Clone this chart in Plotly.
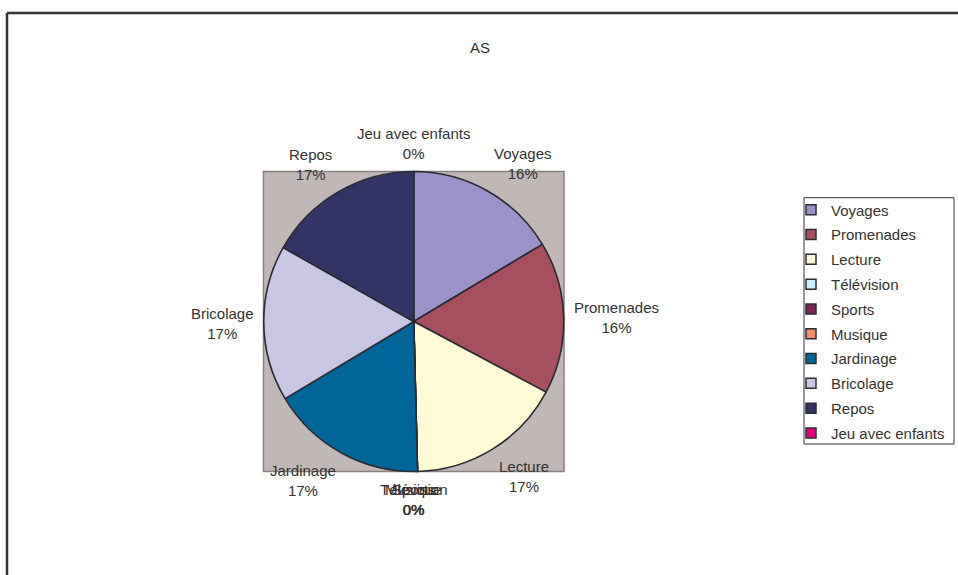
import math
import plotly.graph_objects as go

W, H = 958, 575

categories = ["Voyages", "Promenades", "Lecture", "Télévision", "Sports",
              "Musique", "Jardinage", "Bricolage", "Repos", "Jeu avec enfants"]
values = [16.4, 16.4, 16.8, 0, 0, 0, 16.8, 16.8, 16.8, 0]
colors = ["#9A92C8", "#A6505F", "#FFFBD6", "#CCEEFF", "#7B2456",
          "#F28C6E", "#006699", "#C9C6E4", "#333366", "#E5007E"]
title_text = "AS"

FONT = "Liberation Sans, Arial, sans-serif"
TXT = "#333333"
EDGE = "#2b2b33"

# pie geometry (pixels)
px_left, px_right, px_top, px_bottom = 263.5, 564, 171.5, 471.5
dom_x = [px_left / W, px_right / W]
dom_y = [1 - px_bottom / H, 1 - px_top / H]
cx = (px_left + px_right) / 2
cy = (px_top + px_bottom) / 2
radius = min(px_right - px_left, px_bottom - px_top) / 2
label_gap = 8

fig = go.Figure()
fig.add_trace(go.Pie(
    labels=categories, values=values, sort=False, direction="clockwise",
    rotation=0, domain=dict(x=dom_x, y=dom_y),
    marker=dict(colors=colors, line=dict(color=EDGE, width=1.6)),
    textinfo="none", showlegend=False, hoverinfo="label+percent",
))

# data labels, Excel-style: the corner facing the pie sits on the mid-angle ray
total = sum(values)
annotations = []
cum = 0.0
for lab, v in zip(categories, values):
    mid = (cum + v / 2) / total * 2 * math.pi
    cum += v
    s, c = math.sin(mid), math.cos(mid)
    d = radius + label_gap
    x_px = cx + d * s
    y_px = cy - d * c
    if abs(s) < 0.2:
        x_px = cx
    xa = "left" if s > 0.2 else ("right" if s < -0.2 else "center")
    ya = "bottom" if c > 0.2 else ("top" if c < -0.2 else "middle")
    annotations.append(dict(
        x=x_px / W, y=1 - y_px / H, xref="paper", yref="paper",
        text=f"{lab}<br>{v / total:.0%}", showarrow=False,
        xanchor=xa, yanchor=ya, align="center",
        font=dict(family=FONT, size=15, color=TXT),
    ))

for c_, col in zip(categories, colors):
    fig.add_trace(go.Scatter(
        x=[None], y=[None], mode="markers", name=c_, legendgroup=c_,
        marker=dict(symbol="square", size=10, color=col,
                    line=dict(color=EDGE, width=1.5)),
        showlegend=True, hoverinfo="skip",
    ))

shapes = [
    dict(type="rect", xref="paper", yref="paper", x0=dom_x[0], x1=dom_x[1],
         y0=dom_y[0], y1=dom_y[1], fillcolor="#C0B8B7",
         line=dict(color="#8A8080", width=1.5), layer="below"),
    dict(type="line", xref="paper", yref="paper", x0=7 / W, x1=1, y0=1 - 13 / H,
         y1=1 - 13 / H, line=dict(color="#333338", width=2.5)),
    dict(type="line", xref="paper", yref="paper", x0=7 / W, x1=7 / W, y0=0,
         y1=1 - 13 / H, line=dict(color="#333338", width=2.5)),
    # legend frame
    dict(type="rect", xref="paper", yref="paper", x0=804 / W, x1=954 / W,
         y0=1 - 444 / H, y1=1 - 197.7 / H, fillcolor="rgba(0,0,0,0)",
         line=dict(color="#333333", width=1), layer="above"),
]

fig.update_layout(
    width=W, height=H, margin=dict(l=0, r=0, t=0, b=0),
    paper_bgcolor="white", plot_bgcolor="rgba(0,0,0,0)",
    title=dict(text=title_text, x=480 / W, xanchor="center", y=1 - 48 / H,
               yanchor="middle", font=dict(family=FONT, size=15, color=TXT)),
    xaxis=dict(visible=False), yaxis=dict(visible=False),
    shapes=shapes, annotations=annotations,
    legend=dict(x=791 / W, xanchor="left", y=1 - 193.5 / H, yanchor="top",
                borderwidth=0, bgcolor="rgba(0,0,0,0)",
                font=dict(family=FONT, size=15, color=TXT),
                tracegroupgap=2.3, itemwidth=30),
    showlegend=True,
)

fig.write_html(
    "out.html",
    config=dict(displayModeBar=False),
    post_script="document.body.style.margin='0';"
                "document.documentElement.style.overflow='hidden';",
)
